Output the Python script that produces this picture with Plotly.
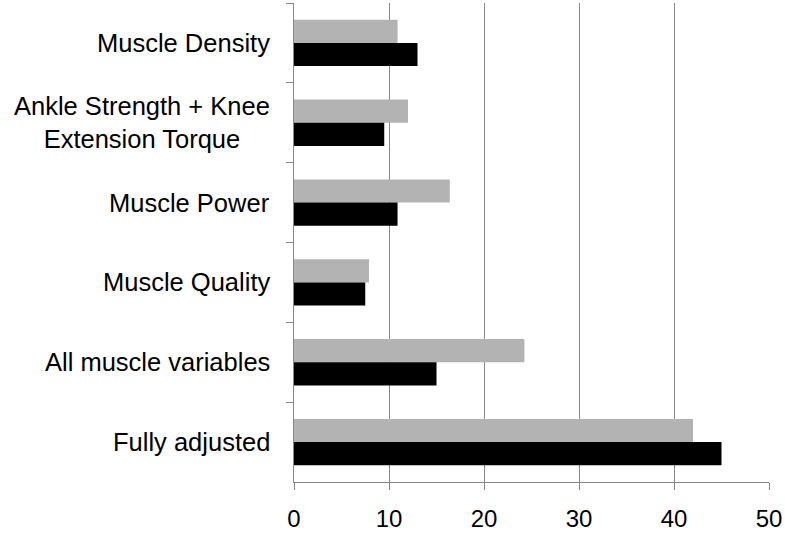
import plotly.graph_objects as go

categories = ["Muscle Density", "Ankle Strength + Knee<br>Extension Torque", "Muscle Power",
              "Muscle Quality", "All muscle variables", "Fully adjusted"]
series_gray = [10.9, 12.0, 16.4, 7.9, 24.25, 42.0]
series_black = [13.0, 9.5, 10.9, 7.5, 15.0, 45.0]
x_ticks = [0, 10, 20, 30, 40, 50]

FONT = "Liberation Sans, Arial, sans-serif"
AX = "#878787"

fig = go.Figure()
fig.add_trace(go.Bar(y=categories, x=series_gray, orientation="h",
                     marker=dict(color="#b3b3b3", line=dict(width=0)), name="gray"))
fig.add_trace(go.Bar(y=categories, x=series_black, orientation="h",
                     marker=dict(color="#000000", line=dict(width=0)), name="black"))

for c in categories:
    fig.add_annotation(x=0, xref="paper", y=c, yref="y", text=c, showarrow=False,
                       xanchor="right", yanchor="middle", align="center", xshift=-22,
                       font=dict(family=FONT, size=25.5, color="#000"))

fig.update_layout(
    width=785, height=533,
    margin=dict(l=294, r=16, t=3, b=51),
    paper_bgcolor="white", plot_bgcolor="white",
    barmode="group", bargap=0.42, bargroupgap=0,
    showlegend=False,
    xaxis=dict(range=[0, 50], tickvals=x_ticks, ticktext=[str(v) for v in x_ticks],
               showgrid=True, gridcolor=AX, gridwidth=1, zeroline=False,
               showline=True, linecolor=AX, linewidth=1, automargin=False,
               ticks="outside", ticklen=7, tickcolor=AX,
               tickfont=dict(family=FONT, size=24, color="#000"), ticklabelstandoff=8),
    yaxis=dict(categoryorder="array", categoryarray=categories, autorange="reversed",
               showticklabels=False, tickson="boundaries", ticks="outside", ticklen=7,
               tickcolor=AX, showline=True, linecolor=AX, linewidth=1, showgrid=False,
               zeroline=False, automargin=False),
)

fig.write_html("out.html", config={"displayModeBar": False},
               post_script="document.body.style.margin='0';document.body.style.padding='0';")
